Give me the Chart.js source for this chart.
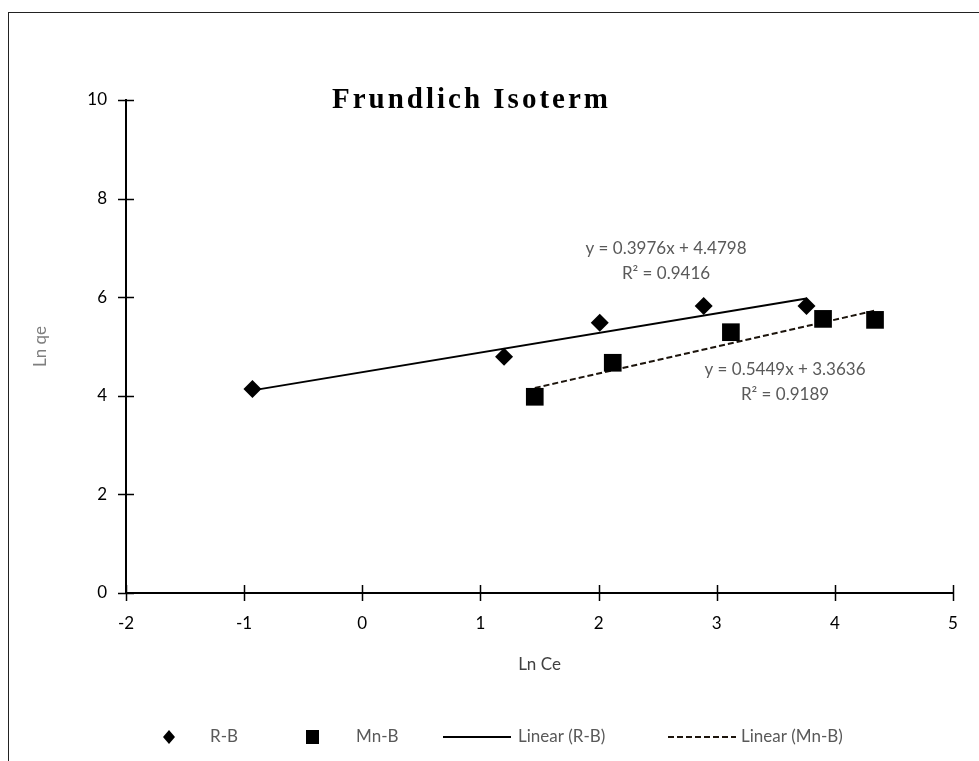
<!DOCTYPE html>
<html>
<head>
<meta charset="utf-8">
<script src="https://cdn.jsdelivr.net/npm/chart.js@4.4.1/dist/chart.umd.min.js"></script>
<style>
  html, body { margin: 0; padding: 0; background: #fff; }
  #wrap { width: 979px; height: 761px; position: relative; }
</style>
</head>
<body>
<div id="wrap"><canvas id="isoChart" width="979" height="761"></canvas></div>
<script>
// Measured points (Ln Ce, Ln qe) for both adsorbents
const rbX = [-0.93, 1.20, 2.01, 2.89, 3.76];
const rbY = [4.14, 4.79, 5.48, 5.82, 5.82];
const mnX = [1.46, 2.12, 3.12, 3.90, 4.34];
const mnY = [3.98, 4.67, 5.29, 5.56, 5.54];

// Linear fits printed on the chart
const fitSlope = [0.3976, 0.5449];
const fitIntercept = [4.4798, 3.3636];
const fitR2 = [0.9416, 0.9189];

const xTicks = [-2, -1, 0, 1, 2, 3, 4, 5];
const yTicks = [0, 2, 4, 6, 8, 10];

const FONT = 'Lato, "Open Sans", sans-serif';

function points(xs, ys) {
    return xs.map((x, i) => ({ x: x, y: ys[i] }));
}

// trendline runs from the first to the last measured x
function fitLine(xs, k) {
    const x0 = Math.min(...xs), x1 = Math.max(...xs);
    return [
        { x: x0, y: fitSlope[k] * x0 + fitIntercept[k] },
        { x: x1, y: fitSlope[k] * x1 + fitIntercept[k] }
    ];
}

function eqText(k) {
    return 'y = ' + fitSlope[k].toFixed(4) + 'x + ' + fitIntercept[k].toFixed(4);
}

// frame, title, cross tick marks, fit equations and the legend
const extras = {
    id: 'extras',
    beforeDraw(chart) {
        const ctx = chart.ctx;
        ctx.save();
        ctx.fillStyle = '#fff';
        ctx.fillRect(0, 0, chart.width, chart.height);
        ctx.strokeStyle = '#222';
        ctx.lineWidth = 1;
        ctx.strokeRect(8.5, 12.5, 2000, 2000);
        ctx.restore();
    },
    afterDraw(chart) {
        const ctx = chart.ctx;
        const xs = chart.scales.x, ys = chart.scales.y;
        const ax = xs.left, ay = ys.bottom;
        ctx.save();

        // tick marks crossing the axes
        ctx.strokeStyle = '#000';
        ctx.lineWidth = 1.5;
        ctx.beginPath();
        xTicks.forEach(v => {
            const px = Math.round(xs.getPixelForValue(v)) + 0.5;
            ctx.moveTo(px, ay - 8);
            ctx.lineTo(px, ay + 8);
        });
        yTicks.forEach(v => {
            const py = Math.round(ys.getPixelForValue(v)) + 0.5;
            ctx.moveTo(ax - 8, py);
            ctx.lineTo(ax + 8, py);
        });
        ctx.stroke();

        // title
        ctx.fillStyle = '#000';
        ctx.font = 'bold 29px "Liberation Serif", "DejaVu Serif", serif';
        ctx.letterSpacing = '3px';
        ctx.textAlign = 'left';
        ctx.textBaseline = 'alphabetic';
        ctx.fillText('Frundlich Isoterm', 332, 108);
        ctx.letterSpacing = '0px';

        // fit equations
        ctx.fillStyle = '#595959';
        ctx.font = '17px ' + FONT;
        ctx.textAlign = 'center';
        ctx.textBaseline = 'middle';
        ctx.fillText(eqText(0), 666, 249);
        ctx.fillText('R\u00b2 = ' + fitR2[0].toFixed(4), 666, 274);
        ctx.fillText(eqText(1), 785, 370);
        ctx.fillText('R\u00b2 = ' + fitR2[1].toFixed(4), 785, 395);

        // legend
        const ds = chart.data.datasets;
        const ly = 737;
        ctx.textAlign = 'left';
        ctx.fillStyle = '#000';
        ctx.beginPath();
        ctx.moveTo(169, ly - 7);
        ctx.lineTo(175, ly);
        ctx.lineTo(169, ly + 7);
        ctx.lineTo(163, ly);
        ctx.closePath();
        ctx.fill();
        ctx.fillRect(306, ly - 7, 13, 14);

        ctx.lineWidth = 2;
        ctx.strokeStyle = ds[2].borderColor;
        ctx.beginPath();
        ctx.moveTo(443, ly);
        ctx.lineTo(511, ly);
        ctx.stroke();
        ctx.strokeStyle = ds[3].borderColor;
        ctx.setLineDash(ds[3].borderDash);
        ctx.beginPath();
        ctx.moveTo(668, ly);
        ctx.lineTo(736, ly);
        ctx.stroke();
        ctx.setLineDash([]);

        ctx.fillStyle = '#595959';
        ctx.fillText(ds[0].label, 210, ly);
        ctx.fillText(ds[1].label, 356, ly);
        ctx.fillText(ds[2].label, 518, ly);
        ctx.fillText(ds[3].label, 741, ly);
        ctx.restore();
    }
};

const ctx = document.getElementById('isoChart').getContext('2d');
const isoChart = new Chart(ctx, {
    type: 'scatter',
    data: {
        datasets: [
            {
                label: 'R-B',
                data: points(rbX, rbY),
                pointStyle: 'rectRot',
                pointRadius: 9,
                backgroundColor: '#000',
                borderColor: '#000',
                borderWidth: 0
            },
            {
                label: 'Mn-B',
                data: points(mnX, mnY),
                pointStyle: 'rect',
                pointRadius: 12.5,
                backgroundColor: '#000',
                borderColor: '#000',
                borderWidth: 0
            },
            {
                label: 'Linear (R-B)',
                data: fitLine(rbX, 0),
                showLine: true,
                pointRadius: 0,
                borderColor: '#000',
                borderWidth: 2
            },
            {
                label: 'Linear (Mn-B)',
                data: fitLine(mnX, 1),
                showLine: true,
                pointRadius: 0,
                borderColor: '#1c140c',
                borderWidth: 2,
                borderDash: [6, 3]
            }
        ]
    },
    options: {
        responsive: false,
        animation: false,
        layout: { padding: { top: 100, right: 26, left: 0, bottom: 0 } },
        plugins: {
            legend: { display: false },
            tooltip: { enabled: false }
        },
        scales: {
            x: {
                type: 'linear',
                min: -2,
                max: 5,
                afterBuildTicks: s => { s.ticks = xTicks.map(v => ({ value: v })); },
                afterFit: s => { s.height = 168; },
                grid: { display: false, drawTicks: false },
                border: { display: true, color: '#000', width: 2 },
                ticks: {
                    padding: 20,
                    color: '#000',
                    font: { family: FONT, size: 17 },
                    callback: v => String(v)
                },
                title: {
                    display: true,
                    text: 'Ln Ce',
                    color: '#404040',
                    font: { family: FONT, size: 17 },
                    padding: { top: 0, bottom: 86 }
                }
            },
            y: {
                type: 'linear',
                min: 0,
                max: 10,
                afterBuildTicks: s => { s.ticks = yTicks.map(v => ({ value: v })); },
                afterFit: s => { s.width = 126; },
                grid: { display: false, drawTicks: false },
                border: { display: true, color: '#000', width: 2 },
                ticks: {
                    padding: 19,
                    color: '#000',
                    font: { family: FONT, size: 17 },
                    callback: v => String(v)
                },
                title: {
                    display: true,
                    text: 'Ln qe',
                    color: '#7f7f7f',
                    font: { family: FONT, size: 17 },
                    padding: { top: 30, bottom: 0 }
                }
            }
        }
    },
    plugins: [extras]
});
</script>
</body>
</html>
